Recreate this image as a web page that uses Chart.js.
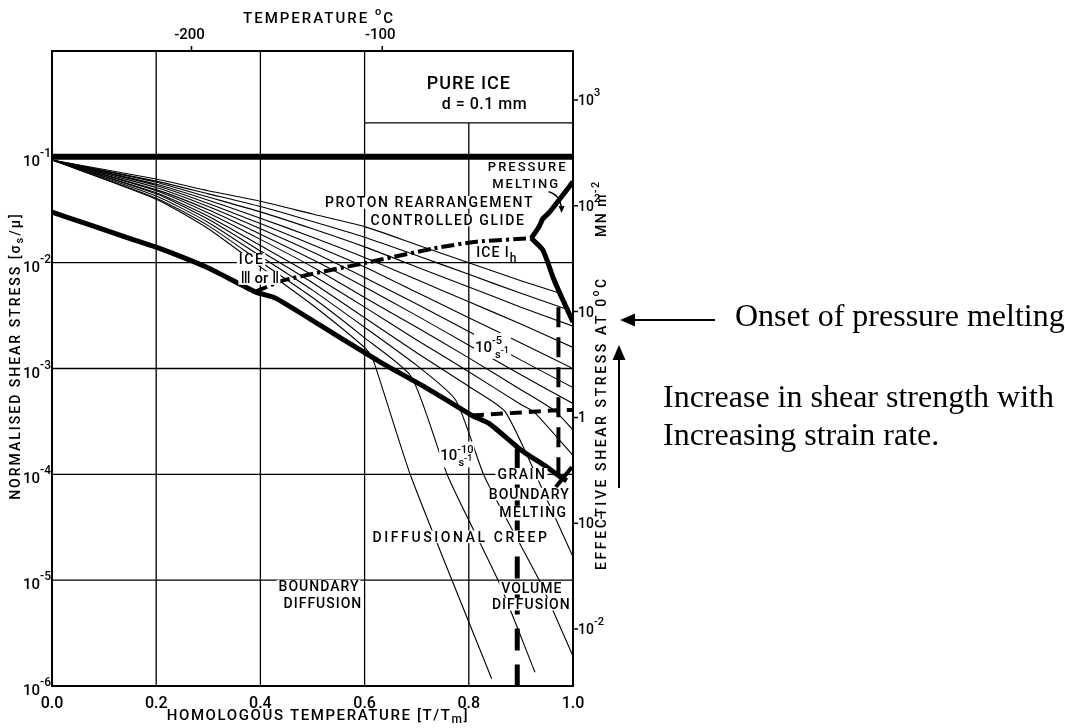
<!DOCTYPE html>
<html>
<head>
<meta charset="utf-8">
<title>Deformation map - pure ice</title>
<script src="https://cdn.jsdelivr.net/npm/chart.js@4.4.0/dist/chart.umd.min.js"></script>
<style>
  html, body { margin: 0; padding: 0; background: #fff; }
  canvas { display: block; }
</style>
</head>
<body>
<canvas id="iceMap" width="1065" height="728"></canvas>
<script>
/* ================================================
   AXES
   x = homologous temperature T/Tm, y = sigma_s / mu
================================================ */

const C_AT_ZERO     = -273.15;   // top axis, deg C at T/Tm = 0
const MU_MN         = 2900;      // right axis, MN m^-2 at sigma/mu = 1
const TICKS_T       = [0, 0.2, 0.4, 0.6, 0.8, 1.0];
const TICK_LABELS_T = ['0.0', '0.2', '0.4', '0.6', '0.8', '1.0'];
const TICKS_C       = [-200, -100];
const TICKS_STRESS  = [1e-1, 1e-2, 1e-3, 1e-4, 1e-5, 1e-6];
const EXP_STRESS    = ['-1', '-2', '-3', '-4', '-5', '-6'];
const TICKS_MN      = [1e3, 1e2, 1e1, 1, 1e-1, 1e-2];
const LABELS_MN     = [['10', '3'], ['10', '2'], ['10', ''], ['1', ''], ['10', '-1'], ['10', '-2']];
const GRID_T        = [0.2, 0.4, 0.6, 0.8];
const GRID_S        = [1e-2, 1e-3, 1e-4, 1e-5];
const BOX_T         = 0.6;       // PURE ICE box, left edge
const BOX_FLOOR     = 0.209;     // PURE ICE box, bottom edge

/* ================================================
   FIELD BOUNDARIES  [T/Tm, sigma/mu]
================================================ */

const idealStrength = [[0, 0.1], [1, 0.1]];

const glideLimit = [
  [0, 3.0e-2], [0.07, 2.3e-2], [0.14, 1.75e-2], [0.2, 1.4e-2], [0.3, 8.9e-3],
  [0.39, 5.3e-3], [0.43, 4.6e-3], [0.56, 1.86e-3], [0.63, 1.15e-3], [0.72, 6.5e-4],
  [0.806, 3.6e-4], [0.84, 3.0e-4], [0.9, 1.7e-4], [0.95, 1.17e-4], [0.975, 9.5e-5],
  [0.988, 8.7e-5],
];

const iceThreeToOne = [
  [0.39, 5.3e-3], [0.444, 6.8e-3], [0.604, 1.0e-2], [0.732, 1.36e-2],
  [0.815, 1.58e-2], [0.92, 1.7e-2],
];

const pressureMelting = [[0.92, 1.7e-2], [0.935, 2.2e-2], [0.942, 2.6e-2], [0.955, 3.0e-2], [1.0, 5.8e-2]];
const meltingOnset    = [[0.92, 1.7e-2], [0.942, 1.32e-2], [0.962, 7.2e-3], [0.975, 5.1e-3], [0.988, 3.7e-3], [1.0, 2.75e-3]];
const creepBreak      = [[0.806, 3.6e-4], [0.975, 4.05e-4], [1.0, 4.05e-4]];
const volumeLimitHigh = [[0.972, 3.8e-3], [0.972, 9.5e-5]];
const volumeLimitLow  = [[0.893, 1.75e-4], [0.893, 1e-6]];
const gbMeltMark      = [[0.967, 7.6e-5], [0.998, 1.17e-4]];

/* ================================================
   STRAIN RATE CONTOURS  (10^0 ... 10^-12 s^-1)
================================================ */

const rateE0  = [[0, 9.33e-2], [0.2, 6.17e-2], [0.3, 4.79e-2], [0.4, 3.80e-2], [0.5, 2.88e-2], [0.6, 2.19e-2], [0.7, 1.48e-2], [0.8, 1.0e-2], [0.9, 6.76e-3], [0.975, 5.13e-3]];
const rateE1  = [[0, 9.33e-2], [0.2, 5.89e-2], [0.3, 4.47e-2], [0.4, 3.39e-2], [0.5, 2.45e-2], [0.6, 1.74e-2], [0.7, 1.17e-2], [0.8, 7.76e-3], [0.9, 5.13e-3], [0.988, 3.63e-3]];
const rateE2  = [[0, 9.33e-2], [0.2, 5.75e-2], [0.3, 4.17e-2], [0.4, 3.02e-2], [0.5, 2.09e-2], [0.6, 1.41e-2], [0.7, 9.12e-3], [0.8, 5.89e-3], [0.9, 3.80e-3], [1.0, 2.51e-3]];
const rateE3  = [[0, 9.33e-2], [0.2, 5.50e-2], [0.3, 3.89e-2], [0.4, 2.63e-2], [0.5, 1.74e-2], [0.6, 1.12e-2], [0.7, 6.92e-3], [0.8, 4.27e-3], [0.9, 2.63e-3], [1.0, 1.58e-3]];
const rateE4  = [[0, 9.33e-2], [0.2, 5.37e-2], [0.3, 3.63e-2], [0.4, 2.34e-2], [0.5, 1.48e-2], [0.6, 9.12e-3], [0.7, 5.25e-3], [0.8, 3.02e-3], [0.9, 1.74e-3], [1.0, 1.0e-3]];
const rateE5  = [[0, 9.33e-2], [0.2, 5.13e-2], [0.3, 3.39e-2], [0.4, 2.09e-2], [0.5, 1.26e-2], [0.6, 7.24e-3], [0.7, 4.07e-3], [0.8, 2.24e-3], [0.9, 1.20e-3], [1.0, 6.61e-4]];
const rateE6  = [[0, 9.33e-2], [0.2, 4.90e-2], [0.3, 3.16e-2], [0.4, 1.86e-2], [0.5, 1.07e-2], [0.6, 5.89e-3], [0.7, 3.16e-3], [0.8, 1.66e-3], [0.9, 8.71e-4], [1.0, 4.68e-4]];
const rateE7  = [[0, 9.33e-2], [0.2, 4.79e-2], [0.3, 2.95e-2], [0.4, 1.66e-2], [0.5, 9.12e-3], [0.6, 4.68e-3], [0.7, 2.45e-3], [0.8, 1.26e-3], [0.9, 6.31e-4], [0.965, 3.98e-4], [1.0, 2.63e-4]];
const rateE8  = [[0, 9.33e-2], [0.2, 4.57e-2], [0.3, 2.75e-2], [0.4, 1.45e-2], [0.5, 7.59e-3], [0.6, 3.80e-3], [0.7, 1.86e-3], [0.8, 9.33e-4], [0.9, 4.57e-4], [0.925, 3.89e-4], [1.0, 1.51e-4]];
const rateE9  = [[0, 9.33e-2], [0.2, 4.47e-2], [0.3, 2.57e-2], [0.4, 1.29e-2], [0.5, 6.46e-3], [0.6, 3.02e-3], [0.7, 1.41e-3], [0.8, 6.76e-4], [0.87, 3.89e-4], [0.951, 5.62e-5], [1.0, 1.66e-5]];
const rateE10 = [[0, 9.33e-2], [0.2, 4.27e-2], [0.3, 2.40e-2], [0.4, 1.15e-2], [0.5, 5.50e-3], [0.6, 2.45e-3], [0.7, 1.07e-3], [0.775, 5.01e-4], [0.83, 9.55e-5], [0.936, 9.77e-6], [1.0, 1.91e-6]];
const rateE11 = [[0, 9.33e-2], [0.2, 4.07e-2], [0.3, 2.24e-2], [0.4, 1.02e-2], [0.5, 4.68e-3], [0.6, 1.95e-3], [0.69, 8.32e-4], [0.76, 9.55e-5], [0.857, 9.77e-6], [0.927, 1.35e-6]];
const rateE12 = [[0, 9.33e-2], [0.2, 3.98e-2], [0.3, 2.09e-2], [0.4, 9.12e-3], [0.5, 3.98e-3], [0.6, 1.58e-3], [0.615, 1.26e-3], [0.689, 9.55e-5], [0.844, 1.17e-6]];

const rateContours = [rateE0, rateE1, rateE2, rateE3, rateE4, rateE5, rateE6,
                      rateE7, rateE8, rateE9, rateE10, rateE11, rateE12];

/* ================================================
   TEXT IN THE MAP   (t, s = centre in data units)
================================================ */

const FIELD_LABELS = [
  { t: 0.800, s: 0.50,    sp: 1,   parts: [['PURE ICE', 18]] },
  { t: 0.830, s: 0.32,    sp: 0.5, parts: [['d = 0.1 mm', 16]] },
  { t: 0.913, s: 0.0806,  sp: 2,   parts: [['PRESSURE', 13]], mask: true },
  { t: 0.910, s: 0.056,   sp: 2,   parts: [['MELTING', 13]], mask: true },
  { t: 0.7245, s: 0.0372, sp: 1.6, parts: [['PROTON REARRANGEMENT', 14]], mask: true },
  { t: 0.760, s: 0.0253,  sp: 1.6, parts: [['CONTROLLED GLIDE', 14]], mask: true },
  { t: 0.383, s: 0.01074, sp: 1.5, parts: [['ICE', 14]], mask: true },
  { t: 0.399, s: 7.15e-3, sp: 0,   parts: [['\u2162 or \u2161', 15]], mask: true },
  { t: 0.854, s: 0.01268, sp: 1,   parts: [['ICE I', 14], ['h', 12, 5]], mask: true },
  { t: 0.902, s: 1.0e-4,  sp: 1.5, parts: [['GRAIN', 14]], mask: true },
  { t: 0.916, s: 6.5e-5,  sp: 1,   parts: [['BOUNDARY', 14]], mask: true },
  { t: 0.924, s: 4.4e-5,  sp: 1.5, parts: [['MELTING', 14]], mask: true },
  { t: 0.785, s: 2.57e-5, sp: 2.6, parts: [['DIFFUSIONAL CREEP', 14]], mask: true },
  { t: 0.5125, s: 8.77e-6, sp: 1, parts: [['BOUNDARY', 14]], mask: true },
  { t: 0.520, s: 6.12e-6, sp: 1,   parts: [['DIFFUSION', 14]], mask: true },
  { t: 0.921, s: 8.4e-6,  sp: 1,   parts: [['VOLUME', 14]], mask: true },
  { t: 0.920, s: 5.93e-6, sp: 1,   parts: [['DIFFUSION', 14]], mask: true },
];

const RATE_LABELS = [
  { t: 0.812, s: 1.6e-3,  parts: [['10', 15], ['-5', 11, -8], ['s', 11, 6, -7], ['-1', 9, 1]] },
  { t: 0.745, s: 1.51e-4, parts: [['10', 15], ['-10', 11, -7], ['s', 11, 6, -15], ['-1', 9, 1]] },
];

/* ================================================
   HELPERS
================================================ */

const font = size => `500 ${size}px Roboto, "DejaVu Sans", sans-serif`;

function pts(arr) {
  return arr.map(([x, y]) => ({ x, y }));
}

function lineSet(arr, width, dash, tension) {
  return {
    data: pts(arr),
    borderColor: '#000',
    borderWidth: width,
    borderDash: dash || [],
    borderCapStyle: 'butt',
    borderJoinStyle: 'round',
    pointRadius: 0,
    tension: tension === undefined ? 0.2 : tension,
    fill: false,
  };
}

function measureParts(ctx, parts, spacing) {
  ctx.letterSpacing = (spacing || 0) + 'px';
  let w = 0;
  parts.forEach(([txt, size, dy, dx]) => {
    ctx.font = font(size);
    w += (dx || 0) + ctx.measureText(txt).width;
  });
  ctx.letterSpacing = '0px';
  return w;
}

function drawParts(ctx, parts, x, y, align, spacing) {
  const total = measureParts(ctx, parts, spacing);
  let cx = align === 'center' ? x - total / 2 : align === 'right' ? x - total : x;
  ctx.letterSpacing = (spacing || 0) + 'px';
  parts.forEach(([txt, size, dy, dx]) => {
    cx += dx || 0;
    ctx.font = font(size);
    ctx.fillText(txt, cx, y + (dy || 0));
    cx += ctx.measureText(txt).width;
  });
  ctx.letterSpacing = '0px';
  return total;
}

function arrowHead(ctx, tipX, tipY, dirX, dirY, len, half) {
  const bx = tipX - dirX * len, by = tipY - dirY * len;
  ctx.beginPath();
  ctx.moveTo(tipX, tipY);
  ctx.lineTo(bx - dirY * half, by + dirX * half);
  ctx.lineTo(bx + dirY * half, by - dirX * half);
  ctx.closePath();
  ctx.fill();
}

/* ================================================
   DECORATION PLUGIN
================================================ */

const mapDecor = {
  id: 'mapDecor',

  beforeDatasetsDraw(chart) {
    const { ctx, chartArea: a, scales: { x, y } } = chart;
    ctx.save();
    ctx.strokeStyle = '#000';
    ctx.lineWidth = 1.3;
    ctx.beginPath();
    GRID_T.forEach(t => {
      const px = x.getPixelForValue(t);
      const top = t > BOX_T ? y.getPixelForValue(BOX_FLOOR) : a.top;
      ctx.moveTo(px, top);
      ctx.lineTo(px, a.bottom);
    });
    GRID_S.forEach(s => {
      const py = y.getPixelForValue(s);
      ctx.moveTo(a.left, py);
      ctx.lineTo(a.right, py);
    });
    const fy = y.getPixelForValue(BOX_FLOOR);
    ctx.moveTo(x.getPixelForValue(BOX_T), fy);
    ctx.lineTo(a.right, fy);
    ctx.stroke();
    ctx.restore();
  },

  afterDatasetsDraw(chart) {
    const { ctx, chartArea: a, scales: { x, y, xTop, y2 } } = chart;
    ctx.save();
    ctx.fillStyle = '#000';
    ctx.strokeStyle = '#000';
    ctx.textBaseline = 'alphabetic';

    /* labels inside the map */
    FIELD_LABELS.forEach(lb => {
      const px = x.getPixelForValue(lb.t);
      const py = y.getPixelForValue(lb.s);
      const size = lb.parts[0][1];
      const base = py + size * 0.36;
      if (lb.mask) {
        const w = measureParts(ctx, lb.parts, lb.sp);
        ctx.fillStyle = '#fff';
        ctx.fillRect(px - w / 2 - 2, py - size * 0.45, w + 3, size * 0.9);
        ctx.fillStyle = '#000';
      }
      drawParts(ctx, lb.parts, px, base, 'center', lb.sp);
    });

    RATE_LABELS.forEach(lb => {
      const px = x.getPixelForValue(lb.t);
      const py = y.getPixelForValue(lb.s);
      const w = measureParts(ctx, lb.parts, 0);
      ctx.fillStyle = '#fff';
      ctx.fillRect(px - 1, py - 14, w + 3, 26);
      ctx.fillStyle = '#000';
      drawParts(ctx, lb.parts, px, py + 5, 'left', 0);
    });

    /* little arrow under PRESSURE MELTING */
    ctx.lineWidth = 1.3;
    const ax0 = x.getPixelForValue(0.953), ay0 = y.getPixelForValue(0.047);
    const ax1 = x.getPixelForValue(0.978), ay1 = y.getPixelForValue(0.0295);
    const acx = x.getPixelForValue(0.975), acy = y.getPixelForValue(0.044);
    ctx.beginPath();
    ctx.moveTo(ax0, ay0);
    ctx.quadraticCurveTo(acx, acy, ax1, ay1 - 5);
    ctx.stroke();
    arrowHead(ctx, ax1, ay1, 0, 1, 7, 3);

    /* frame */
    ctx.lineWidth = 2;
    ctx.strokeRect(a.left, a.top, a.right - a.left, a.bottom - a.top);

    /* tick marks, top and right */
    ctx.lineWidth = 1.5;
    ctx.beginPath();
    TICKS_C.forEach(v => {
      const px = xTop.getPixelForValue(v);
      ctx.moveTo(px, a.top);
      ctx.lineTo(px, a.top - 5);
    });
    TICKS_MN.forEach(v => {
      const py = y2.getPixelForValue(v);
      ctx.moveTo(a.right, py);
      ctx.lineTo(a.right + 5, py);
    });
    ctx.stroke();

    /* tick labels */
    TICKS_T.forEach((t, i) => {
      drawParts(ctx, [[TICK_LABELS_T[i], 16]], x.getPixelForValue(t), 708, 'center', 0);
    });
    TICKS_C.forEach(v => {
      drawParts(ctx, [[String(v), 15]], xTop.getPixelForValue(v) - 2, 39, 'center', 0);
    });
    TICKS_STRESS.forEach((s, i) => {
      const py = y.getPixelForValue(s);
      drawParts(ctx, [['10', 15, 9], [EXP_STRESS[i], 12, 0]], a.left - 1, py, 'right', 0);
    });
    TICKS_MN.forEach((v, i) => {
      const py = y2.getPixelForValue(v);
      const [b, e] = LABELS_MN[i];
      drawParts(ctx, [[b, 14, 5], [e, 11, -4]], a.right + 5, py, 'left', 0);
    });

    /* axis titles */
    drawParts(ctx, [['TEMPERATURE ', 15], ['o', 11, -8], ['C', 15]], 319, 23, 'center', 2);
    drawParts(ctx, [['HOMOLOGOUS TEMPERATURE [T/T', 15], ['m', 12, 3], [']', 15]], 318, 720, 'center', 1.6);

    ctx.save();
    ctx.translate(20, 356);
    ctx.rotate(-Math.PI / 2);
    drawParts(ctx, [['NORMALISED SHEAR STRESS [\u03c3', 14], ['s', 11, 3], ['/\u03bc]', 14]], 0, 0, 'center', 2);
    ctx.restore();

    ctx.save();
    ctx.translate(606, 570);
    ctx.rotate(-Math.PI / 2);
    drawParts(ctx, [['EFFECTIVE SHEAR STRESS AT 0', 14], ['o', 10, -7], ['C', 14]], 0, 0, 'left', 2.6);
    drawParts(ctx, [['MN m', 14], ['-2', 11, -7]], 333, 0, 'left', 1.5);
    ctx.restore();

    /* notes on the right */
    ctx.font = '32px "Liberation Serif", "Times New Roman", serif';
    ctx.textAlign = 'left';
    ctx.fillText('Onset of pressure melting', 735, 326);
    ctx.fillText('Increase in shear strength with', 663, 407);
    ctx.fillText('Increasing strain rate.', 663, 445);

    ctx.lineWidth = 2;
    ctx.beginPath();
    ctx.moveTo(715, 320);
    ctx.lineTo(632, 320);
    ctx.moveTo(619, 488);
    ctx.lineTo(619, 356);
    ctx.stroke();
    arrowHead(ctx, 620, 320, -1, 0, 15, 6.5);
    arrowHead(ctx, 619, 345, 0, -1, 15, 6.5);

    ctx.restore();
  },
};

/* ================================================
   CHART
================================================ */

const datasets = [
  ...rateContours.map(c => lineSet(c, 1.1)),
  lineSet(idealStrength, 6, null, 0),
  lineSet(glideLimit, 5),
  lineSet(iceThreeToOne, 4, [13, 4, 3, 4]),
  lineSet(pressureMelting, 5, null, 0.1),
  lineSet(meltingOnset, 5),
  lineSet(creepBreak, 4, [12, 7], 0),
  lineSet(volumeLimitHigh, 4, [20, 10], 0),
  lineSet(volumeLimitLow, 5, [22, 14], 0),
  lineSet(gbMeltMark, 4, null, 0),
];

new Chart(document.getElementById('iceMap').getContext('2d'), {
  type: 'line',
  data: { datasets },
  options: {
    responsive: false,
    animation: false,
    devicePixelRatio: 1,
    layout: { padding: { left: 52, top: 51, right: 492, bottom: 42 } },
    plugins: { legend: { display: false }, tooltip: { enabled: false } },
    scales: {
      x:    { type: 'linear', position: 'bottom', min: 0, max: 1, display: false },
      xTop: { type: 'linear', position: 'top', min: C_AT_ZERO, max: 0, display: false },
      y:    { type: 'logarithmic', position: 'left', min: 1e-6, max: 1, display: false },
      y2:   { type: 'logarithmic', position: 'right', min: 1e-6 * MU_MN, max: MU_MN, display: false },
    },
  },
  plugins: [mapDecor],
});
</script>
</body>
</html>
